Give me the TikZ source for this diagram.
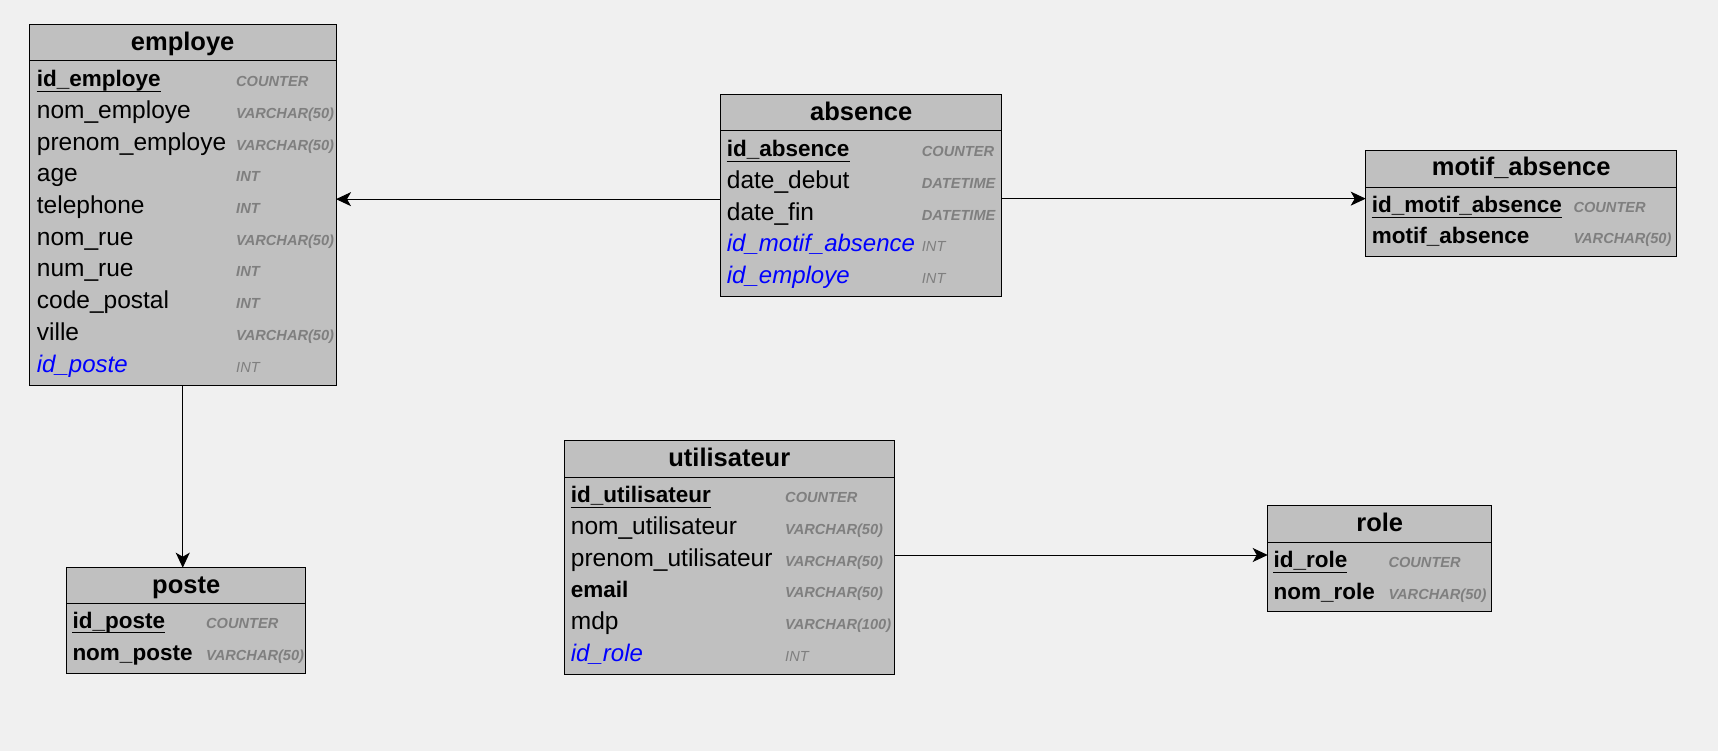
\documentclass[tikz,border=0pt]{standalone}
\usepackage{fontspec}
\setmainfont{Liberation Sans}
\usetikzlibrary{arrows.meta}
\definecolor{bg}{HTML}{F0F0F0}
\definecolor{boxgray}{HTML}{C0C0C0}
\definecolor{typgray}{HTML}{7F7F7F}
\definecolor{fkblue}{HTML}{0000FF}
\tikzset{
  tbl/.style={draw=black, fill=boxgray, line width=1pt, inner sep=0pt, outer sep=0pt, anchor=north west},
  hdr/.style={draw=black, line width=1pt},
  ttl/.style={anchor=base, inner sep=0pt, font=\fontsize{25.5}{30}\selectfont\bfseries},
  fld/.style={anchor=base west, inner sep=0pt, font=\fontsize{24.5}{29}\selectfont},
  pk/.style={anchor=base west, inner sep=0pt, font=\fontsize{22.5}{27}\selectfont\bfseries},
  nn/.style={anchor=base west, inner sep=0pt, font=\fontsize{22.5}{27}\selectfont\bfseries},
  fk/.style={anchor=base west, inner sep=0pt, text=fkblue, font=\fontsize{24}{29}\selectfont\itshape},
  typ/.style={anchor=base west, inner sep=0pt, text=typgray, font=\fontsize{14.6}{17}\selectfont\bfseries\itshape},
  typfk/.style={anchor=base west, inner sep=0pt, text=typgray, font=\fontsize{14.6}{17}\selectfont\itshape},
  uline/.style={draw=black, line width=1pt},
  arr/.style={draw=black, line width=1pt, -{Stealth[length=15pt, width=14pt, inset=4pt]}}
}
\begin{document}
\begin{tikzpicture}[x=1pt, y=-1pt]
\fill[bg] (0,0) rectangle (1718,751);
\useasboundingbox (0,0) rectangle (1718,751);

% ---------- employe ----------
\node[tbl, minimum width=306.5pt, minimum height=360.5pt] (employe) at (29.5,24.5) {};
\draw[hdr] (employe.west |- 0,61) -- (employe.east |- 0,61);
\node[ttl] (employeT) at (182.7,51) {employe};
\node[pk] (e1) at (36.7,86.7) {id\_employe};
\draw[uline] ([yshift=-4.5pt]e1.base west) -- ([yshift=-4.5pt]e1.base east);
\node[typ] (e1t) at (236,86.7) {COUNTER};
\node[fld] (e2) at (36.7,118.4) {nom\_employe};
\node[typ] (e2t) at (236,118.4) {VARCHAR(50)};
\node[fld] (e3) at (36.7,150.1) {prenom\_employe};
\node[typ] (e3t) at (236,150.1) {VARCHAR(50)};
\node[fld] (e4) at (36.7,181.8) {age};
\node[typ] (e4t) at (236,181.8) {INT};
\node[fld] (e5) at (36.7,213.5) {telephone};
\node[typ] (e5t) at (236,213.5) {INT};
\node[fld] (e6) at (36.7,245.2) {nom\_rue};
\node[typ] (e6t) at (236,245.2) {VARCHAR(50)};
\node[fld] (e7) at (36.7,276.9) {num\_rue};
\node[typ] (e7t) at (236,276.9) {INT};
\node[fld] (e8) at (36.7,308.6) {code\_postal};
\node[typ] (e8t) at (236,308.6) {INT};
\node[fld] (e9) at (36.7,340.3) {ville};
\node[typ] (e9t) at (236,340.3) {VARCHAR(50)};
\node[fk] (e10) at (36.7,372) {id\_poste};
\node[typfk] (e10t) at (236,372) {INT};

% ---------- absence ----------
\node[tbl, minimum width=281pt, minimum height=201.7pt] (absence) at (720.7,94.3) {};
\draw[hdr] (absence.west |- 0,130.3) -- (absence.east |- 0,130.3);
\node[ttl] (absenceT) at (861.2,121) {absence};
\node[pk] (a1) at (726.7,156.7) {id\_absence};
\draw[uline] ([yshift=-4.5pt]a1.base west) -- ([yshift=-4.5pt]a1.base east);
\node[typ] (a1t) at (921.7,156.7) {COUNTER};
\node[fld] (a2) at (726.7,188.4) {date\_debut};
\node[typ] (a2t) at (921.7,188.4) {DATETIME};
\node[fld] (a3) at (726.7,220.1) {date\_fin};
\node[typ] (a3t) at (921.7,220.1) {DATETIME};
\node[fk] (a4) at (726.7,251.8) {id\_motif\_absence};
\node[typfk] (a4t) at (921.7,251.8) {INT};
\node[fk] (a5) at (726.7,283.5) {id\_employe};
\node[typfk] (a5t) at (921.7,283.5) {INT};

% ---------- motif_absence ----------
\node[tbl, minimum width=311pt, minimum height=106pt] (motif) at (1365.7,150.7) {};
\draw[hdr] (motif.west |- 0,187.3) -- (motif.east |- 0,187.3);
\node[ttl] (motifT) at (1521.2,176) {motif\_absence};
\node[pk] (m1) at (1371.7,212.7) {id\_motif\_absence};
\draw[uline] ([yshift=-4.5pt]m1.base west) -- ([yshift=-4.5pt]m1.base east);
\node[typ] (m1t) at (1573.3,212.7) {COUNTER};
\node[nn] (m2) at (1371.7,244) {motif\_absence};
\node[typ] (m2t) at (1573.3,244) {VARCHAR(50)};

% ---------- poste ----------
\node[tbl, minimum width=239pt, minimum height=105.6pt] (poste) at (66.7,567.7) {};
\draw[hdr] (poste.west |- 0,603.3) -- (poste.east |- 0,603.3);
\node[ttl] (posteT) at (186.2,593.3) {poste};
\node[pk] (p1) at (72.3,628.3) {id\_poste};
\draw[uline] ([yshift=-4.5pt]p1.base west) -- ([yshift=-4.5pt]p1.base east);
\node[typ] (p1t) at (206,628.3) {COUNTER};
\node[nn] (p2) at (72.3,660) {nom\_poste};
\node[typ] (p2t) at (206,660) {VARCHAR(50)};

% ---------- utilisateur ----------
\node[tbl, minimum width=330pt, minimum height=233.6pt] (utilisateur) at (564.3,440.7) {};
\draw[hdr] (utilisateur.west |- 0,477.3) -- (utilisateur.east |- 0,477.3);
\node[ttl] (utilisateurT) at (729.3,466.7) {utilisateur};
\node[pk] (u1) at (570.7,502.7) {id\_utilisateur};
\draw[uline] ([yshift=-4.5pt]u1.base west) -- ([yshift=-4.5pt]u1.base east);
\node[typ] (u1t) at (785,502.7) {COUNTER};
\node[fld] (u2) at (570.7,534.4) {nom\_utilisateur};
\node[typ] (u2t) at (785,534.4) {VARCHAR(50)};
\node[fld] (u3) at (570.7,566.1) {prenom\_utilisateur};
\node[typ] (u3t) at (785,566.1) {VARCHAR(50)};
\node[nn] (u4) at (570.7,597.8) {email};
\node[typ] (u4t) at (785,597.8) {VARCHAR(50)};
\node[fld] (u5) at (570.7,629.5) {mdp};
\node[typ] (u5t) at (785,629.5) {VARCHAR(100)};
\node[fk] (u6) at (570.7,661.2) {id\_role};
\node[typfk] (u6t) at (785,661.2) {INT};

% ---------- role ----------
\node[tbl, minimum width=224pt, minimum height=106pt] (role) at (1267.7,505.7) {};
\draw[hdr] (role.west |- 0,542.3) -- (role.east |- 0,542.3);
\node[ttl] (roleT) at (1379.7,531) {role};
\node[pk] (r1) at (1273.3,567.7) {id\_role};
\draw[uline] ([yshift=-4.5pt]r1.base west) -- ([yshift=-4.5pt]r1.base east);
\node[typ] (r1t) at (1388.3,567.7) {COUNTER};
\node[nn] (r2) at (1273.3,599.3) {nom\_role};
\node[typ] (r2t) at (1388.3,599.3) {VARCHAR(50)};

% ---------- connectors ----------
\draw[arr] ([yshift=-4pt]absence.west) -- ([yshift=-4pt]absence.west -| employe.east);
\draw[arr] ([yshift=-3.5pt]absence.east) -- ([yshift=-3.5pt]absence.east -| motif.west);
\draw[arr] (employe.south) -- (employe.south |- poste.north);
\draw[arr] ([yshift=2.5pt]utilisateur.east) -- ([yshift=2.5pt]utilisateur.east -| role.west);
\end{tikzpicture}
\end{document}
